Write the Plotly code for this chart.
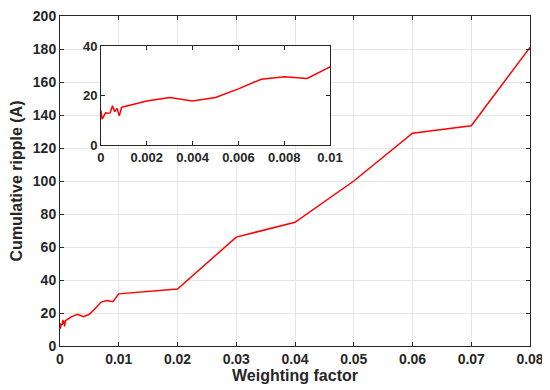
import plotly.graph_objects as go

# Main curve
main_x = [0, 0.00005, 0.0002, 0.0003, 0.0004, 0.0005, 0.0006, 0.0007, 0.0008, 0.0009,
          0.001, 0.002, 0.003, 0.004, 0.005, 0.006, 0.007, 0.008, 0.009, 0.01,
          0.02, 0.03, 0.04, 0.05, 0.06, 0.07, 0.08]
main_y = [14, 10.5, 13, 12.8, 13, 15.9, 13.5, 14.8, 11.8, 15.2,
          15.5, 17.8, 19.2, 17.8, 19.2, 22.7, 26.6, 27.6, 26.9, 31.6,
          34.5, 66, 75, 100, 129, 133.5, 181]

# Inset (zoom on 0..0.01)
inset_x = main_x[:20]
inset_y = main_y[:20]

main_xticks = [0, 0.01, 0.02, 0.03, 0.04, 0.05, 0.06, 0.07, 0.08]
main_xlabels = ["0", "0.01", "0.02", "0.03", "0.04", "0.05", "0.06", "0.07", "0.08"]
main_yticks = [0, 20, 40, 60, 80, 100, 120, 140, 160, 180, 200]
inset_xticks = [0, 0.002, 0.004, 0.006, 0.008, 0.01]
inset_xlabels = ["0", "0.002", "0.004", "0.006", "0.008", "0.01"]
inset_yticks = [0, 20, 40]

FONT = "Liberation Sans"
RED = "#ff0000"
DARK = "#262626"

fig = go.Figure()
fig.add_trace(go.Scatter(x=main_x, y=main_y, mode="lines",
                         line=dict(color=RED, width=1.5),
                         xaxis="x", yaxis="y", showlegend=False))
fig.add_trace(go.Scatter(x=inset_x, y=inset_y, mode="lines",
                         line=dict(color=RED, width=1.5),
                         xaxis="x2", yaxis="y2", showlegend=False))

main_tickfont = dict(family=FONT, size=14, color=DARK, weight="bold")
inset_tickfont = dict(family=FONT, size=13, color=DARK, weight="bold")
titlefont = dict(family=FONT, size=16, color=DARK, weight="bold")
common = dict(showline=True, linecolor=DARK, linewidth=1, mirror="ticks",
              ticks="inside", ticklen=4, tickcolor=DARK, zeroline=False,
              automargin=False, ticklabeloverflow="allow")

# page body has an 8px default margin; compensate so the plot lands where the reference has it
fig.update_layout(
    width=542, height=382,
    margin=dict(l=52, r=20, t=8, b=44),
    paper_bgcolor="white", plot_bgcolor="white",
    font=dict(family=FONT, color=DARK),
    xaxis=dict(domain=[0, 1], range=[0, 0.08], tickvals=main_xticks, ticktext=main_xlabels,
               showgrid=True, gridcolor="#e6e6e6", gridwidth=1, tickfont=main_tickfont,
               title=dict(text="Weighting factor", font=titlefont, standoff=1),
               **common),
    yaxis=dict(domain=[0, 1], range=[0, 200], tickvals=main_yticks,
               showgrid=True, gridcolor="#e6e6e6", gridwidth=1, tickfont=main_tickfont,
               title=dict(text="Cumulative ripple (A)", font=titlefont, standoff=7),
               **common),
    xaxis2=dict(domain=[0.0872, 0.5745], range=[0, 0.01], anchor="y2",
                tickvals=inset_xticks, ticktext=inset_xlabels, showgrid=False,
                tickfont=inset_tickfont, **common),
    yaxis2=dict(domain=[0.609, 0.909], range=[0, 40], anchor="x2",
                tickvals=inset_yticks, showgrid=False,
                tickfont=inset_tickfont, **common),
)

fig.write_html("out.html")
